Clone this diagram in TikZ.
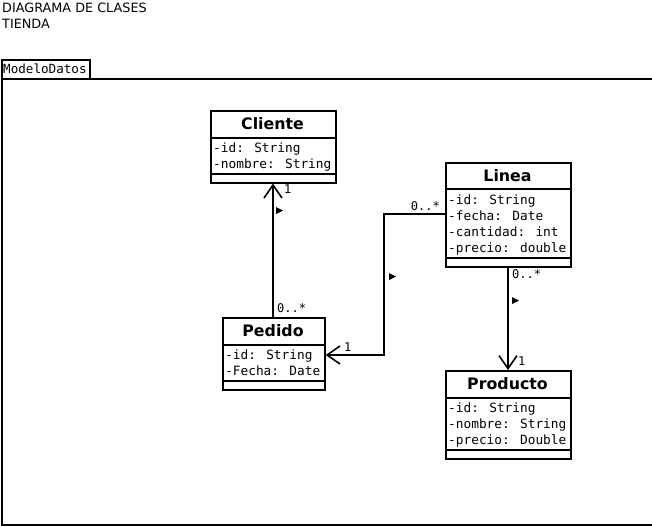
\documentclass[tikz,border=0pt]{standalone}
\usepackage{fontspec}
\setmainfont{DejaVu Sans}
\newfontfamily\monof{DejaVu Sans Mono}
\usetikzlibrary{arrows.meta}
\tikzset{
  box/.style={draw, line width=1.6pt, anchor=north west, inner sep=0pt},
  sep/.style={line width=1.6pt},
  cname/.style={anchor=center, inner sep=0pt, font=\fontsize{15.8}{18}\selectfont\bfseries},
  attr/.style={anchor=north west, inner sep=0pt, align=left, font=\monof\fontsize{12.8}{16}\selectfont},
  lbl/.style={inner sep=0pt, font=\monof\fontsize{12}{14}\selectfont},
  conn/.style={line width=1.6pt},
  openarrow/.style={-{Straight Barb[length=13pt,width=18pt,line width=1.6pt]}},
  tri/.style={fill=black}
}
\begin{document}
\begin{tikzpicture}[x=1pt,y=-1pt]
\useasboundingbox (0,0) rectangle (652,525);
\node[anchor=north west, inner sep=0pt, align=left, font=\fontsize{12.8}{16}\selectfont] (title) at (2,2.5) {DIAGRAMA DE CLASES\\TIENDA};
% package
\node[box, minimum width=88, minimum height=19] (tab) at (1,59) {};
\node[anchor=west, inner sep=0pt, font=\monof\fontsize{12.6}{15}\selectfont] (tabtxt) at (3,69) {ModeloDatos};
\node[box, minimum width=651, minimum height=446] (pkg) at (1,78) {};
% Cliente
\node[box, minimum width=125, minimum height=72] (cliente) at (210,110) {};
\draw[sep] (210,138) -- (335,138); \draw[sep] (210,174) -- (335,174);
\node[cname] (clienteN) at (272.5,124) {Cliente};
\node[attr] (clienteA) at (213,142.5) {-id: String\\-nombre: String};
% Linea
\node[box, minimum width=125, minimum height=104] (linea) at (445,162) {};
\draw[sep] (445,189) -- (570,189); \draw[sep] (445,258) -- (570,258);
\node[cname] (lineaN) at (507.5,175.5) {Linea};
\node[attr] (lineaA) at (448,194.5) {-id: String\\-fecha: Date\\-cantidad: int\\-precio: double};
% Pedido
\node[box, minimum width=102, minimum height=72] (pedido) at (222,317) {};
\draw[sep] (222,345) -- (324,345); \draw[sep] (222,381) -- (324,381);
\node[cname] (pedidoN) at (273,331) {Pedido};
\node[attr] (pedidoA) at (225,349.5) {-id: String\\-Fecha: Date};
% Producto
\node[box, minimum width=125, minimum height=88] (producto) at (445,370) {};
\draw[sep] (445,398) -- (570,398); \draw[sep] (445,450) -- (570,450);
\node[cname] (productoN) at (507.5,384) {Producto};
\node[attr] (productoA) at (448,402.5) {-id: String\\-nombre: String\\-precio: Double};
% connectors
\draw[conn, openarrow] (pedido.north -| 273,0) -- (cliente.south -| 273,0);
\node[lbl, anchor=west] (l1) at (284,189) {1};
\node[lbl, anchor=west] (l2) at (277,308) {0..*};
\fill[tri] (276,207) -- (283,210.5) -- (276,214) -- cycle;

\coordinate (b1) at (384,214);
\coordinate (b2) at (384,355);
\draw[conn, openarrow] (linea.west |- b1) -- (b1) -- (b2) -- (pedido.east |- b2);
\node[lbl, anchor=east] (l3) at (440,206) {0..*};
\node[lbl, anchor=west] (l4) at (344,347) {1};
\fill[tri] (389,273) -- (396,276.5) -- (389,280) -- cycle;

\draw[conn, openarrow] (linea.south -| 508,0) -- (producto.north -| 508,0);
\node[lbl, anchor=west] (l5) at (512,274) {0..*};
\node[lbl, anchor=west] (l6) at (518,361) {1};
\fill[tri] (512,297) -- (519,300.5) -- (512,304) -- cycle;
\end{tikzpicture}
\end{document}
